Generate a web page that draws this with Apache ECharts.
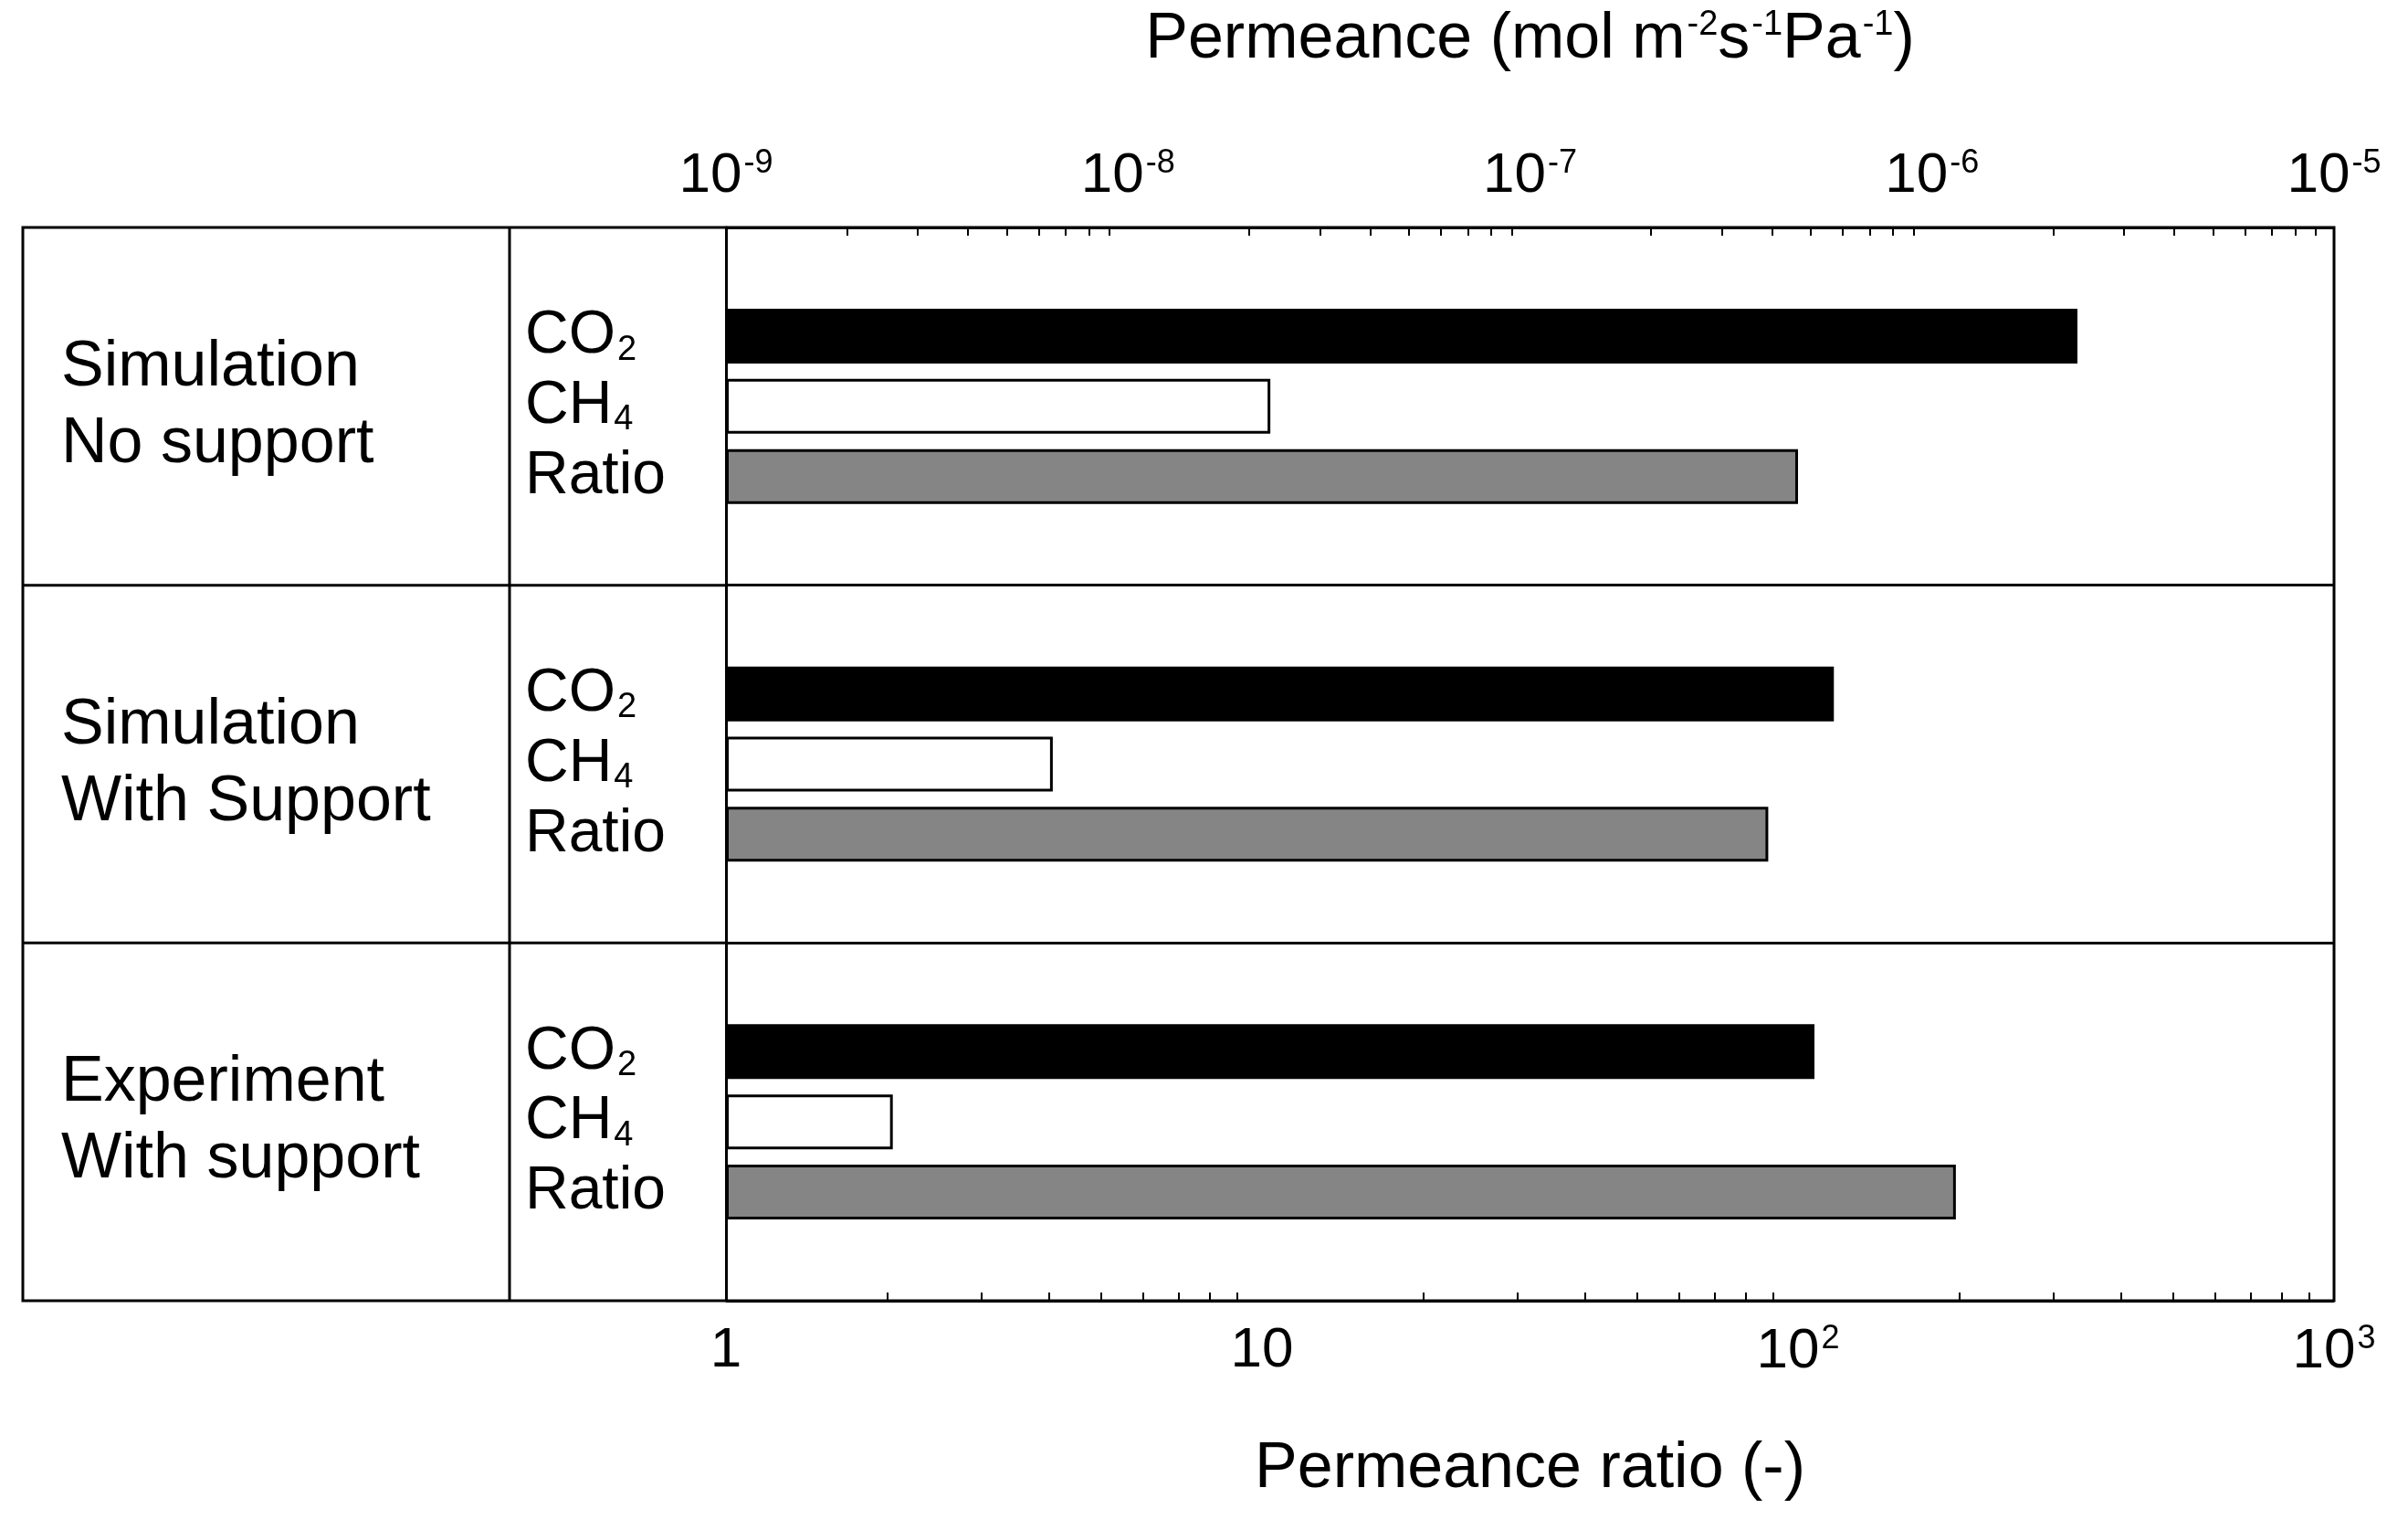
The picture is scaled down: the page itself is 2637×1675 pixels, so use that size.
<!DOCTYPE html>
<html><head><meta charset="utf-8">
<script src="https://cdn.jsdelivr.net/npm/echarts@6/dist/echarts.min.js"></script>
<style>html,body{margin:0;background:#fff}#c{width:2637px;height:1675px}</style>
</head><body><div id="c"></div>
<script>
var groups=['Simulation\nNo support','Simulation\nWith Support','Experiment\nWith support'];
var co2=[2.3e-6,5.7e-7,5.1e-7];
var ch4=[2.26e-8,6.5e-9,2.6e-9];
var ratio=[100,88,197];
var topTicks=['10{s|-9}','10{s|-8}','10{s|-7}','10{s|-6}','10{s|-5}'];
var botTicks=['1','10','10{s|2}','10{s|3}'];

// top axis (1e-9..1e-5) and bottom axis (1..1e3) share the same width: map permeance onto ratio scale
function toBottom(p){return Math.pow(10,(Math.log10(p)+9)*3/4);}

var F='Liberation Sans, Arial, sans-serif';
var L=795,R=81,T=249,B=251,W=2637,H=1675,TL=25,COL=558;
var supRich={s:{fontSize:36,verticalAlign:'top',padding:[0,0,28,2],fontFamily:F,color:'#000'},n:{fontSize:66,fontFamily:F,color:'#000'},b:{fontSize:38,fontFamily:F,padding:[30,0,0,2],color:'#000'}};
function decFmt(arr,base){return function(v){var i=Math.round(Math.log10(v)-base);return arr[i]!==undefined?arr[i]:'';};}
var myChart=echarts.init(document.getElementById('c'));
var rowH=(H-T-B)/3;
var lab=function(f){return {show:true,position:'insideLeft',offset:[-(L-COL-12),0],formatter:f,rich:supRich};};
var axisCommon={
  axisLine:{lineStyle:{color:'#000',width:3}},
  axisTick:{inside:true,length:18,lineStyle:{color:'#000',width:2}},
  minorTick:{show:true,splitNumber:9,length:9,lineStyle:{color:'#000',width:2}},
  splitLine:{show:false}};
var option={
  backgroundColor:'#fff',
  textStyle:{fontFamily:F},
  grid:{left:L,right:R,top:T,bottom:B},
  xAxis:[
    Object.assign({type:'log',min:1,max:1000,position:'bottom',
     axisLabel:{fontSize:62,color:'#000',margin:24,formatter:decFmt(botTicks,0),rich:supRich},
     name:'Permeance ratio (-)',nameLocation:'middle',nameGap:150,nameTextStyle:{fontSize:70,color:'#000'}},axisCommon),
    Object.assign({type:'log',min:1e-9,max:1e-5,position:'top',
     axisLabel:{fontSize:62,color:'#000',margin:24,formatter:decFmt(topTicks,-9),rich:supRich},
     name:'Permeance (mol m{s|-2}s{s|-1}Pa{s|-1})',nameLocation:'middle',nameGap:170,
     nameTextStyle:{fontSize:70,color:'#000',rich:{s:{fontSize:38,verticalAlign:'top',padding:[0,0,30,2],color:'#000'}}}},axisCommon)
  ],
  yAxis:{type:'category',data:groups,inverse:true,
    axisLine:{lineStyle:{color:'#000',width:3}},axisTick:{show:false},
    splitLine:{show:true,lineStyle:{color:'#000',width:3}},
    axisLabel:{fontSize:70,color:'#000',align:'left',margin:L-TL-42,lineHeight:84}},
  series:[
    {name:'CO2',type:'bar',xAxisIndex:0,data:co2.map(toBottom),barWidth:60,barGap:'28%',
     itemStyle:{color:'#000',borderColor:'#000',borderWidth:2},label:lab('{n|CO}{b|2}')},
    {name:'CH4',type:'bar',xAxisIndex:0,data:ch4.map(toBottom),barWidth:60,barGap:'28%',
     itemStyle:{color:'#fff',borderColor:'#000',borderWidth:3},label:lab('{n|CH}{b|4}')},
    {name:'Ratio',type:'bar',xAxisIndex:0,data:ratio,barWidth:60,barGap:'28%',
     itemStyle:{color:'#858585',borderColor:'#000',borderWidth:3},label:lab('{n|Ratio}')}
  ],
  graphic:[
    {type:'rect',shape:{x:TL,y:T,width:W-R-TL,height:H-T-B},style:{fill:'none',stroke:'#000',lineWidth:3},z:10},
    {type:'line',shape:{x1:COL,y1:T,x2:COL,y2:H-B},style:{stroke:'#000',lineWidth:3},z:10},
    {type:'line',shape:{x1:TL,y1:T+rowH,x2:L,y2:T+rowH},style:{stroke:'#000',lineWidth:3},z:10},
    {type:'line',shape:{x1:TL,y1:T+2*rowH,x2:L,y2:T+2*rowH},style:{stroke:'#000',lineWidth:3},z:10}
  ]
};
option&&myChart.setOption(option);
</script></body></html>
